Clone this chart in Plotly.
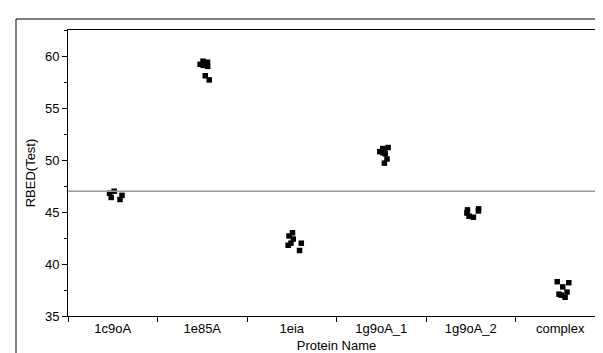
import plotly.graph_objects as go

categories = ["1c9oA", "1e85A", "1eia", "1g9oA_1", "1g9oA_2", "complex"]
values_1c9oA = [47.0, 46.8, 46.6, 46.4, 46.2]
values_1e85A = [59.2, 59.5, 59.0, 59.1, 59.4, 58.1, 57.7]
values_1eia = [43.0, 42.7, 42.4, 42.0, 42.0, 41.8, 41.3]
values_1g9oA_1 = [51.2, 51.0, 50.8, 50.6, 51.1, 50.7, 50.1, 49.7]
values_1g9oA_2 = [45.3, 45.2, 45.1, 44.9, 44.6, 44.5]
values_complex = [38.3, 38.2, 37.8, 37.3, 37.1, 37.0, 36.8]
reference_line = 47.0
y_ticks = [35, 40, 45, 50, 55, 60]

series = [values_1c9oA, values_1e85A, values_1eia, values_1g9oA_1, values_1g9oA_2, values_complex]
xs, ys = [], []
for c, vals in zip(categories, series):
    xs += [c] * len(vals)
    ys += vals

fig = go.Figure()
fig.add_trace(go.Box(
    x=xs, y=ys, boxpoints="all", jitter=0.35, pointpos=0.15,
    fillcolor="rgba(0,0,0,0)", line=dict(width=0, color="rgba(0,0,0,0)"),
    marker=dict(symbol="square", size=5.5, color="black"),
    showlegend=False, whiskerwidth=0,
))

fig.add_hline(y=reference_line, line=dict(color="#9a9a9a", width=1.5))

fig.add_shape(type="rect", xref="paper", yref="paper",
              x0=(8 - 60) / 537, x1=1.2, y0=-0.3, y1=1 + 11 / 286,
              line=dict(color="black", width=1), fillcolor="rgba(0,0,0,0)", layer="below")

fig.update_layout(
    width=603, height=353,
    margin=dict(l=60, r=6, t=22, b=45),
    paper_bgcolor="white", plot_bgcolor="white",
    font=dict(family="Liberation Sans, Arial, sans-serif", size=13, color="black"),
)
fig.update_xaxes(
    categoryorder="array", categoryarray=categories,
    showline=True, linecolor="black", linewidth=1, mirror=True,
    ticks="outside", ticklen=5, tickcolor="black", tickson="boundaries",
    showgrid=False, zeroline=False,
    title=dict(text="Protein Name", font=dict(size=13), standoff=6),
)
fig.update_yaxes(
    range=[35, 62.5], tickvals=y_ticks,
    showline=True, linecolor="black", linewidth=1, mirror=True,
    ticks="outside", ticklen=5, tickcolor="black",
    minor=dict(ticks="outside", ticklen=3, dtick=2.5, tick0=35, tickcolor="black", showgrid=False),
    showgrid=False, zeroline=False,
    title=dict(text="RBED(Test)", font=dict(size=13), standoff=6),
)

fig.write_html("out.html")
